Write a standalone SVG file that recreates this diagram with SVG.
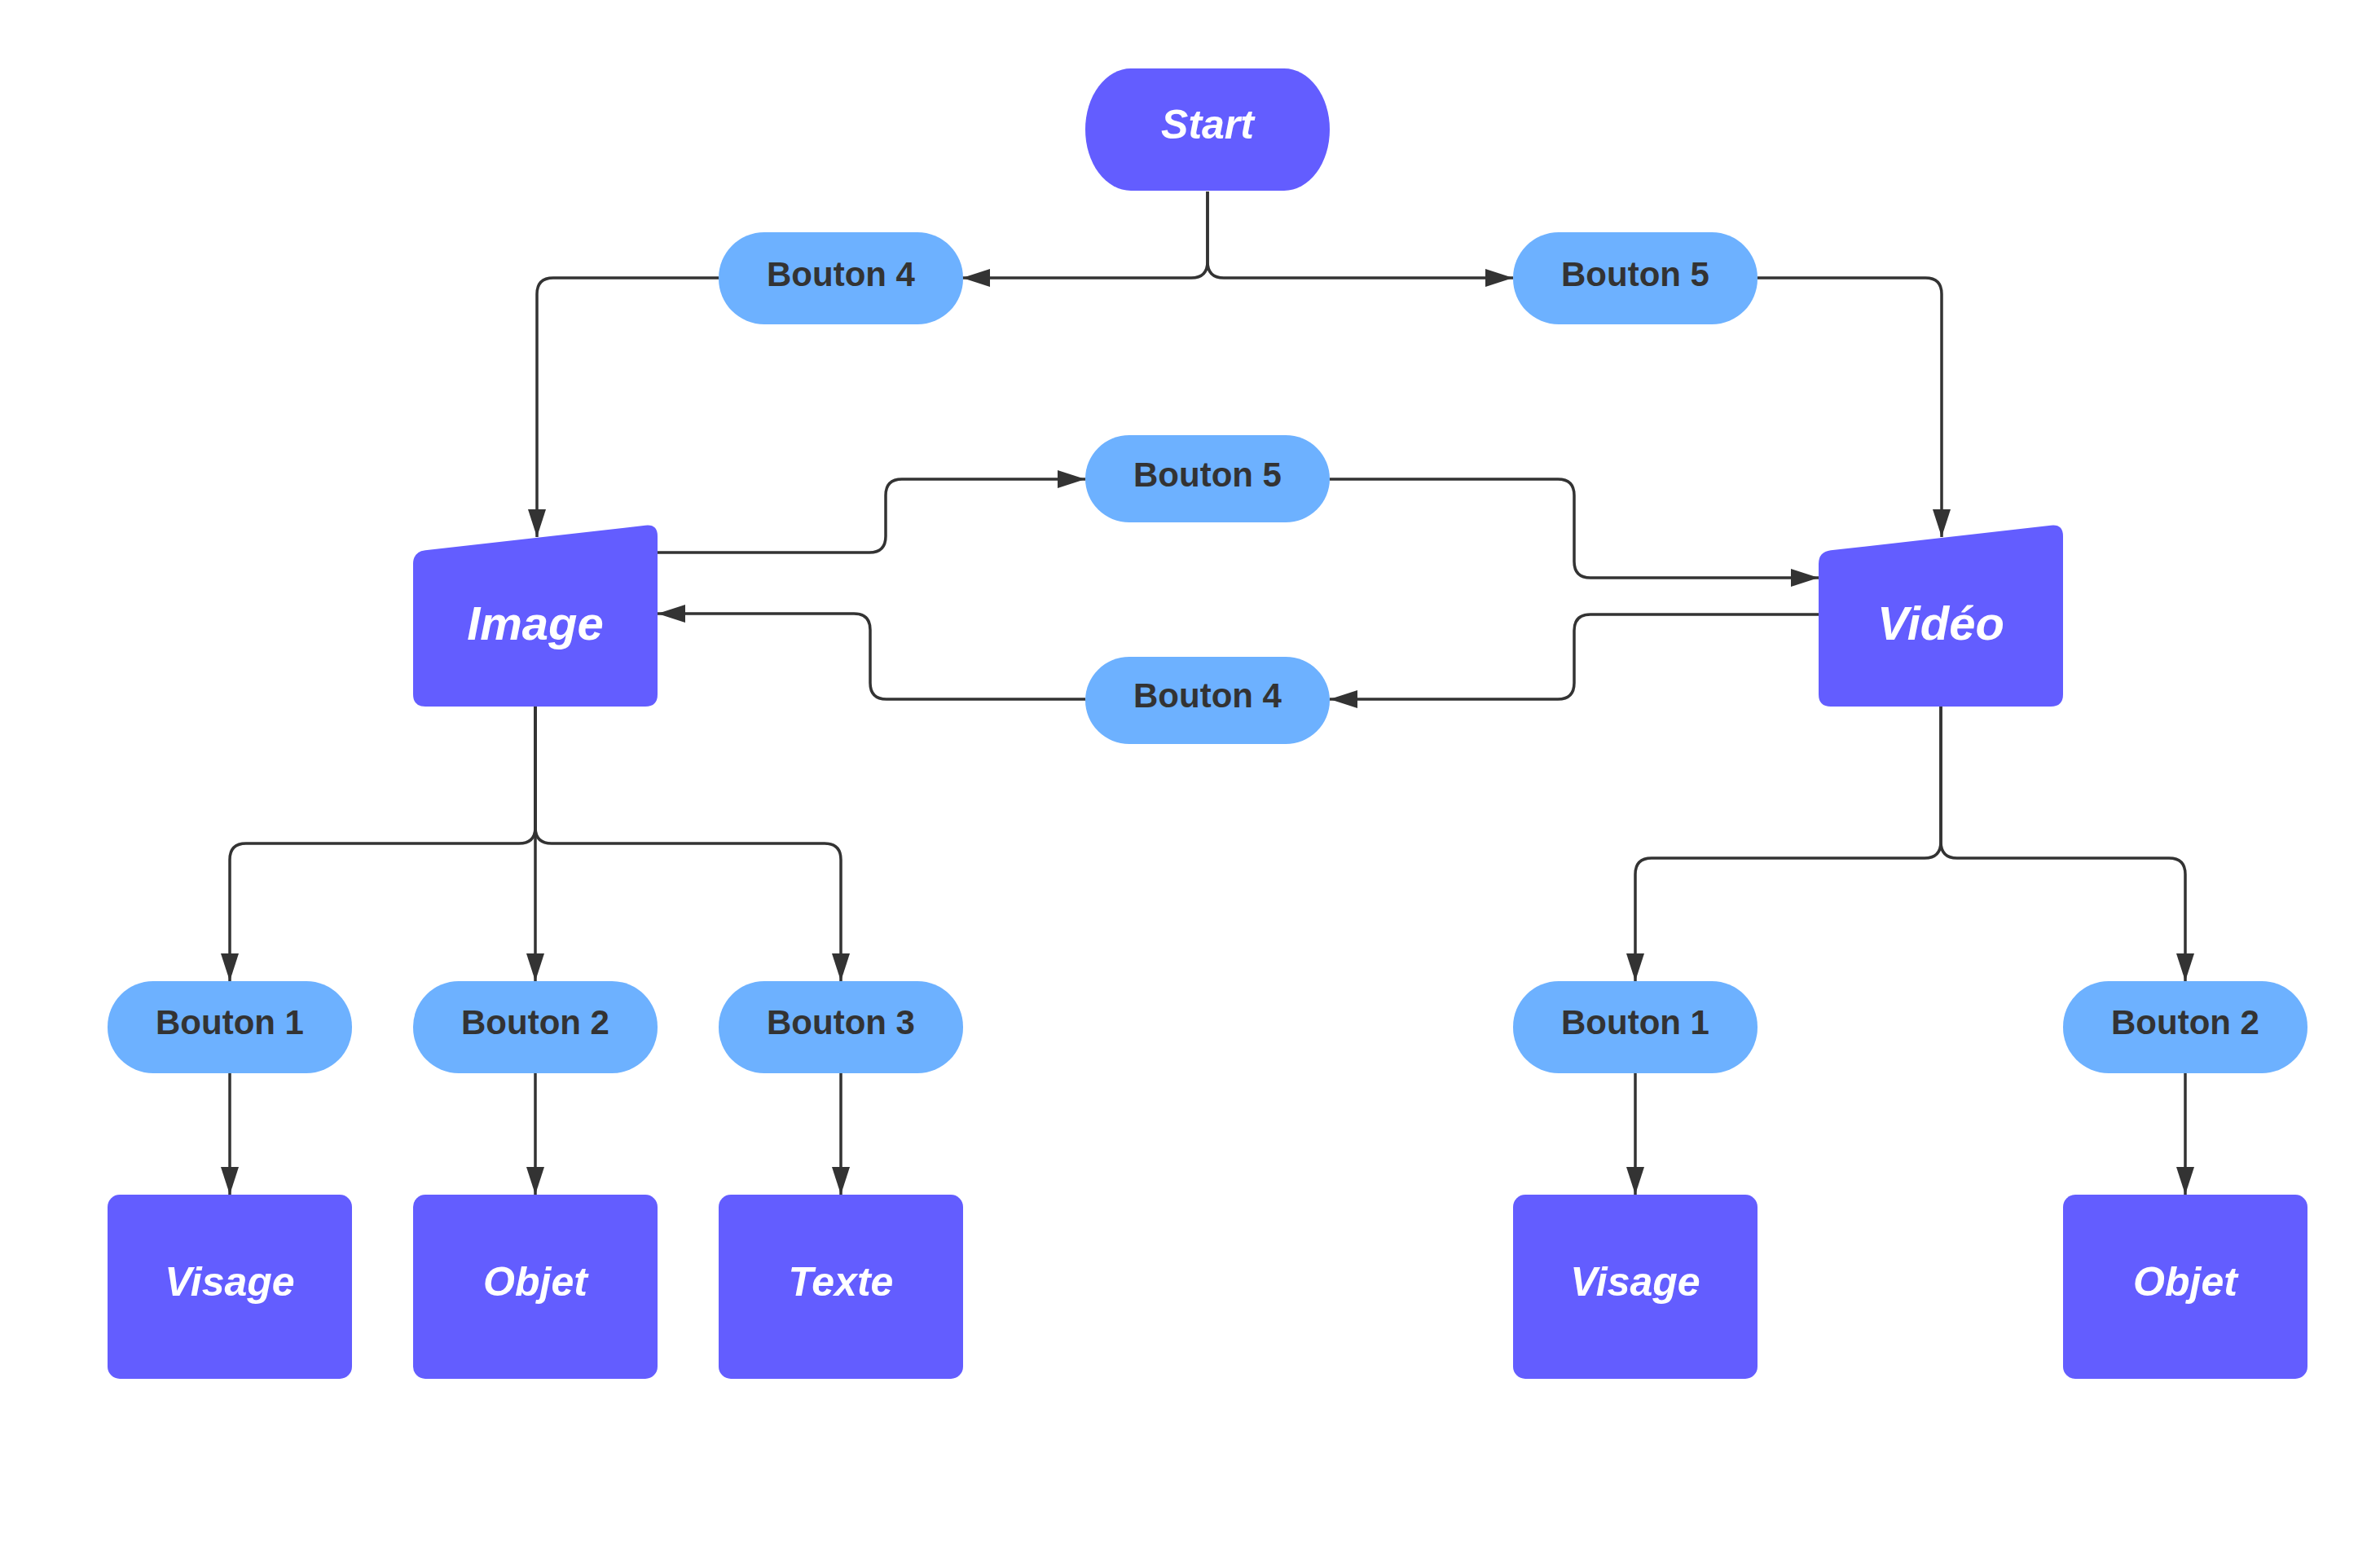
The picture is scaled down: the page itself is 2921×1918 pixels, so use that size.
<svg xmlns="http://www.w3.org/2000/svg" width="2921" height="1918" viewBox="0 0 2921 1918">
<style>
.dark{fill:#635DFF}
.light{fill:#6DB1FF}
.t1{font-family:"Liberation Sans",Arial,sans-serif;font-weight:bold;font-style:italic;fill:#FFFFFF;text-anchor:middle}
.t2{font-family:"Liberation Sans",Arial,sans-serif;font-weight:bold;font-size:42px;fill:#333333;text-anchor:middle}
.c{fill:none;stroke:#333333;stroke-width:3.5;marker-end:url(#arr)}
</style>
<defs>
<marker id="arr" markerUnits="userSpaceOnUse" markerWidth="36" markerHeight="24" refX="34" refY="11" orient="auto">
<path d="M0,0 L34,11 L0,22 Z" fill="#333333"/>
</marker>
</defs>
<rect width="2921" height="1918" fill="#FFFFFF"/>
<g id="connectors">
<path class="c" d="M1482,235 L1482,321 Q1482,341 1462,341 L1181,341"/>
<path class="c" d="M1482,235 L1482,321 Q1482,341 1502,341 L1857,341"/>
<path class="c" d="M882,341 L679,341 Q659,341 659,361 L659,659"/>
<path class="c" d="M2157,341 L2363,341 Q2383,341 2383,361 L2383,659"/>
<path class="c" d="M807,678 L1067,678 Q1087,678 1087,658 L1087,608 Q1087,588 1107,588 L1332,588"/>
<path class="c" d="M1632,588 L1912,588 Q1932,588 1932,608 L1932,689 Q1932,709 1952,709 L2232,709"/>
<path class="c" d="M2232,754 L1952,754 Q1932,754 1932,774 L1932,838 Q1932,858 1912,858 L1632,858"/>
<path class="c" d="M1332,858 L1088,858 Q1068,858 1068,838 L1068,773 Q1068,753 1048,753 L807,753"/>
<path class="c" d="M657,867 L657,1015 Q657,1035 637,1035 L302,1035 Q282,1035 282,1055 L282,1204"/>
<path class="c" d="M657,867 L657,1204"/>
<path class="c" d="M657,867 L657,1015 Q657,1035 677,1035 L1012,1035 Q1032,1035 1032,1055 L1032,1204"/>
<path class="c" d="M282,1317 L282,1466"/>
<path class="c" d="M657,1317 L657,1466"/>
<path class="c" d="M1032,1317 L1032,1466"/>
<path class="c" d="M2382,866 L2382,1033 Q2382,1053 2362,1053 L2027,1053 Q2007,1053 2007,1073 L2007,1204"/>
<path class="c" d="M2382,866 L2382,1033 Q2382,1053 2402,1053 L2662,1053 Q2682,1053 2682,1073 L2682,1204"/>
<path class="c" d="M2007,1317 L2007,1466"/>
<path class="c" d="M2682,1317 L2682,1466"/>
</g>
<g id="start">
<rect class="dark" x="1332" y="84" width="300" height="150" rx="56" ry="75"/>
<text class="t1" x="1482" y="170" font-size="50">Start</text>
</g>
<g id="bouton4-top">
<rect class="light" x="882" y="285" width="300" height="113" rx="56" ry="56"/>
<text class="t2" x="1032" y="351">Bouton 4</text>
</g>
<g id="bouton5-top">
<rect class="light" x="1857" y="285" width="300" height="113" rx="56" ry="56"/>
<text class="t2" x="2007" y="351">Bouton 5</text>
</g>
<g id="image">
<path class="dark" d="M522,675.3 L792,644.8 Q807,643 807,658 L807,852 Q807,867 792,867 L522,867 Q507,867 507,852 L507,692 Q507,677 522,675.3 Z"/>
<text class="t1" x="657" y="785" font-size="58">Image</text>
</g>
<g id="video">
<path class="dark" d="M2247,675.3 L2517,644.8 Q2532,643 2532,658 L2532,852 Q2532,867 2517,867 L2247,867 Q2232,867 2232,852 L2232,692 Q2232,677 2247,675.3 Z"/>
<text class="t1" x="2382" y="785" font-size="58">Vidéo</text>
</g>
<g id="bouton5-mid">
<rect class="light" x="1332" y="534" width="300" height="107" rx="54" ry="54"/>
<text class="t2" x="1482" y="597">Bouton 5</text>
</g>
<g id="bouton4-mid">
<rect class="light" x="1332" y="806" width="300" height="107" rx="54" ry="54"/>
<text class="t2" x="1482" y="868">Bouton 4</text>
</g>
<g id="img-bouton1">
<rect class="light" x="132" y="1204" width="300" height="113" rx="56" ry="56"/>
<text class="t2" x="282" y="1269">Bouton 1</text>
</g>
<g id="img-bouton2">
<rect class="light" x="507" y="1204" width="300" height="113" rx="56" ry="56"/>
<text class="t2" x="657" y="1269">Bouton 2</text>
</g>
<g id="img-bouton3">
<rect class="light" x="882" y="1204" width="300" height="113" rx="56" ry="56"/>
<text class="t2" x="1032" y="1269">Bouton 3</text>
</g>
<g id="vid-bouton1">
<rect class="light" x="1857" y="1204" width="300" height="113" rx="56" ry="56"/>
<text class="t2" x="2007" y="1269">Bouton 1</text>
</g>
<g id="vid-bouton2">
<rect class="light" x="2532" y="1204" width="300" height="113" rx="56" ry="56"/>
<text class="t2" x="2682" y="1269">Bouton 2</text>
</g>
<g id="img-visage">
<rect class="dark" x="132" y="1466" width="300" height="226" rx="15"/>
<text class="t1" x="282" y="1590" font-size="50">Visage</text>
</g>
<g id="img-objet">
<rect class="dark" x="507" y="1466" width="300" height="226" rx="15"/>
<text class="t1" x="657" y="1590" font-size="50">Objet</text>
</g>
<g id="img-texte">
<rect class="dark" x="882" y="1466" width="300" height="226" rx="15"/>
<text class="t1" x="1032" y="1590" font-size="50">Texte</text>
</g>
<g id="vid-visage">
<rect class="dark" x="1857" y="1466" width="300" height="226" rx="15"/>
<text class="t1" x="2007" y="1590" font-size="50">Visage</text>
</g>
<g id="vid-objet">
<rect class="dark" x="2532" y="1466" width="300" height="226" rx="15"/>
<text class="t1" x="2682" y="1590" font-size="50">Objet</text>
</g>
</svg>
